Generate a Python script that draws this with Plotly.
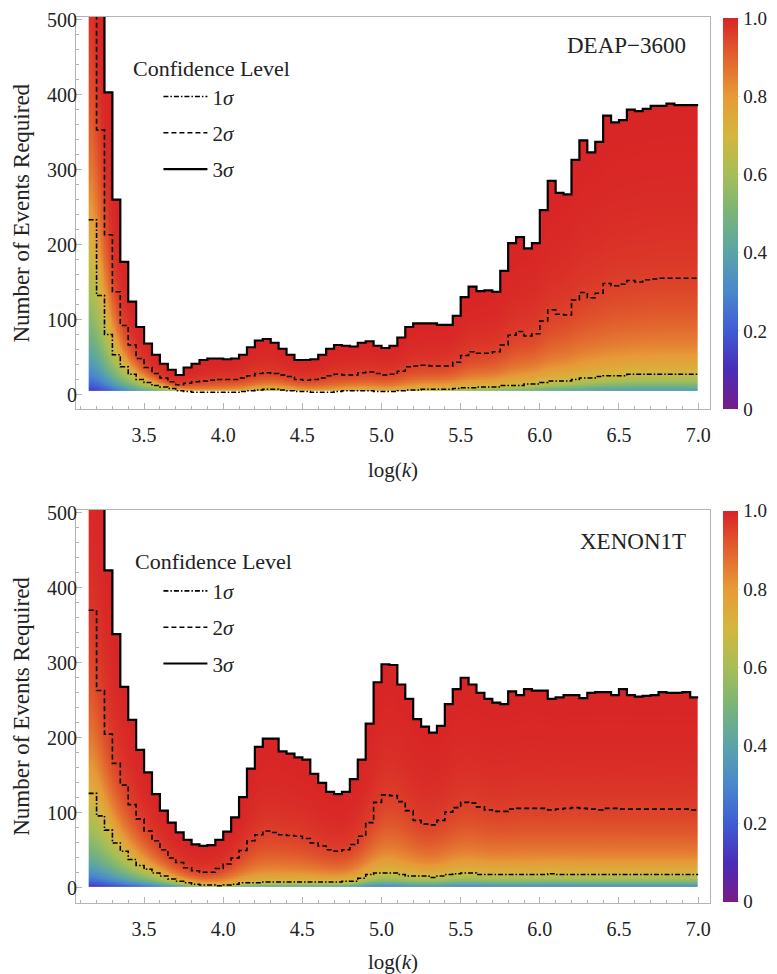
import math
import numpy as np
import plotly.graph_objects as go

# ---------------- data ----------------
bin_start = 3.15
bin_width = 0.05
n_bins = 77

deap_3sigma = [620, 600, 403, 260, 177, 124, 90, 68, 53, 41, 33, 26, 36, 41, 46, 48, 48, 47, 48, 53, 63, 72, 74, 69, 61, 53, 46,
               46, 47, 53, 61, 66, 65, 64, 69, 71, 65, 62, 65, 76, 90, 95, 95, 95, 93, 93, 105, 130, 144, 138, 139, 137,
               165, 202, 210, 195, 202, 246, 285, 269, 267, 313, 339, 323, 337, 372, 363, 366, 380, 378, 381, 385, 385, 388, 386, 386, 386]
deap_2sigma = [560, 353, 213, 137, 92, 66, 48, 36, 28, 22, 17, 13, 15, 17, 18, 19, 20, 20, 20, 22, 25, 28, 29, 28, 26, 24, 20,
               19, 20, 22, 25, 27, 26, 26, 29, 30, 28, 26, 27, 31, 37, 38, 39, 38, 38, 38, 43, 52, 57, 55, 55, 57,
               66, 79, 84, 78, 81, 98, 113, 107, 106, 126, 136, 129, 135, 148, 145, 147, 152, 150, 153, 154, 155, 155, 155, 155, 155]
deap_1sigma = [233, 132, 80, 53, 37, 27, 20, 16, 12, 10, 8, 5, 4, 3, 3, 3, 3, 3, 3, 4, 5, 6, 7, 7, 6, 5, 4,
               4, 3, 3, 3, 4, 5, 5, 5, 5, 4, 4, 4, 5, 6, 6, 7, 7, 7, 7, 8, 9, 9, 10, 10, 10,
               12, 12, 12, 14, 14, 16, 18, 18, 18, 20, 22, 22, 24, 25, 25, 25, 27, 27, 27, 27, 27, 27, 27, 27, 27]

xenon_3sigma = [650, 560, 423, 338, 268, 224, 184, 154, 125, 103, 87, 74, 64, 58, 56, 57, 64, 75, 94, 121, 159, 188, 199, 199, 182, 179, 174,
                171, 152, 140, 128, 125, 128, 145, 171, 219, 274, 298, 297, 271, 252, 225, 215, 207, 216, 245, 265, 280, 271, 260, 252, 247,
                245, 262, 257, 265, 263, 263, 252, 254, 257, 257, 253, 260, 261, 261, 257, 265, 257, 255, 256, 257, 261, 260, 260, 261, 254]
xenon_2sigma = [370, 263, 205, 166, 137, 111, 92, 76, 63, 51, 40, 34, 27, 23, 21, 21, 26, 32, 40, 50, 63, 71, 76, 74, 71, 70, 69,
                66, 60, 56, 51, 49, 51, 58, 69, 87, 114, 124, 123, 115, 103, 90, 85, 84, 90, 101, 107, 114, 113, 108, 104, 102,
                102, 105, 106, 106, 106, 106, 104, 105, 106, 107, 106, 105, 104, 106, 106, 105, 105, 105, 105, 105, 105, 105, 105, 105, 104]
xenon_1sigma = [126, 96, 77, 60, 49, 38, 30, 25, 20, 16, 12, 9, 7, 5, 4, 4, 3, 4, 5, 7, 7, 7, 8, 8, 8, 8, 8,
                8, 8, 8, 8, 8, 9, 9, 13, 18, 20, 20, 20, 18, 16, 16, 16, 14, 16, 18, 19, 20, 20, 18, 18, 18,
                18, 18, 18, 18, 18, 18, 19, 18, 18, 18, 18, 18, 18, 18, 18, 18, 18, 18, 18, 18, 18, 18, 18, 18, 18]

colorbar_ticks = [0, 0.2, 0.4, 0.6, 0.8, 1.0]
colorbar_labels = ["0", "0.2", "0.4", "0.6", "0.8", "1.0"]
x_ticks = [3.5, 4.0, 4.5, 5.0, 5.5, 6.0, 6.5, 7.0]
y_ticks = [0, 100, 200, 300, 400, 500]

rainbow = [
    [0.0, "rgb(120,28,134)"],
    [0.1, "rgb(74,44,184)"],
    [0.2, "rgb(64,92,212)"],
    [0.3, "rgb(74,136,204)"],
    [0.4, "rgb(90,164,168)"],
    [0.5, "rgb(122,180,120)"],
    [0.6, "rgb(166,190,86)"],
    [0.7, "rgb(212,182,62)"],
    [0.8, "rgb(231,154,56)"],
    [0.9, "rgb(226,98,46)"],
    [1.0, "rgb(216,36,38)"],
]

FONT = "Liberation Serif, DejaVu Serif, serif"
TXT = "#222"

edges = bin_start + bin_width * np.arange(n_bins + 1)
centers = edges[:-1] + bin_width / 2
erf_v = np.vectorize(math.erf)


def smooth_log(vals):
    v = np.log(np.array(vals, dtype=float))
    for _ in range(2):
        p = np.concatenate([[v[0]], v, [v[-1]]])
        v = 0.25 * p[:-2] + 0.5 * p[1:-1] + 0.25 * p[2:]
    return v


def confidence_field(n1, n2, n3, ybot):
    xf = bin_start + 0.005 + 0.01 * np.arange(int(round((edges[-1] - bin_start) / 0.01)))
    bins = np.minimum(((xf - bin_start) / bin_width + 1e-9).astype(int), n_bins - 1)
    yf = ybot + 0.5 + np.arange(int(505 - ybot))
    a1 = np.sqrt(np.exp(np.interp(xf, centers, smooth_log(n1))))[None, :]
    a2 = np.sqrt(np.exp(np.interp(xf, centers, smooth_log(n2))))[None, :]
    a3 = np.sqrt(np.exp(np.interp(xf, centers, smooth_log(n3))))[None, :]
    a2 = np.maximum(a2, a1 * 1.2)
    a3 = np.maximum(a3, a2 * 1.2)
    q = np.sqrt(yf)[:, None]
    s = np.where(q <= a1, q / a1,
                 np.where(q <= a2, 1 + (q - a1) / (a2 - a1),
                          np.where(q <= a3, 2 + (q - a2) / (a3 - a2), 3 + (q - a3) / (a3 - a2))))
    z = erf_v(s / math.sqrt(2))
    top = np.array(n3, dtype=float)[bins][None, :]
    z = np.where(yf[:, None] > top, np.nan, np.round(z, 3))
    zl = [[None if np.isnan(v) else float(v) for v in row] for row in z]
    return xf, yf, zl


def step_xy(vals):
    xs = list(edges)
    ys = list(vals) + [vals[-1]]
    return xs, ys


fig = go.Figure()

panels = [
    dict(name="DEAP\u22123600", n1=deap_1sigma, n2=deap_2sigma, n3=deap_3sigma, ybot=5,
         xa="x", ya="y", legend="legend", cb_y=0.778, grp="a"),
    dict(name="XENON1T", n1=xenon_1sigma, n2=xenon_2sigma, n3=xenon_3sigma, ybot=2,
         xa="x2", ya="y2", legend="legend2", cb_y=0.222, grp="b"),
]

for p in panels:
    xf, yf, z = confidence_field(p["n1"], p["n2"], p["n3"], p["ybot"])
    fig.add_trace(go.Heatmap(
        x=xf, y=yf, z=z, xaxis=p["xa"], yaxis=p["ya"],
        colorscale=rainbow, zmin=0, zmax=1, showlegend=False, hoverinfo="skip",
        colorbar=dict(x=1.0200, xanchor="left", xpad=0, y=p["cb_y"], yanchor="middle", ypad=0,
                      len=0.441, lenmode="fraction", thickness=15, outlinewidth=0,
                      tickvals=colorbar_ticks, ticktext=colorbar_labels,
                      ticks="outside", ticklen=2, tickcolor="#dddddd",
                      ticklabeloverflow="allow",
                      tickfont=dict(family=FONT, size=19, color=TXT)),
    ))
    styles = [("1<i>σ</i>", p["n1"], dict(color="black", width=1.6, dash="5px,2px,1.5px,2px")),
              ("2<i>σ</i>", p["n2"], dict(color="black", width=1.6, dash="5px,3px")),
              ("3<i>σ</i>", p["n3"], dict(color="black", width=2.2))]
    for k, (lab, vals, ln) in enumerate(styles):
        xs, ys = step_xy(vals)
        fig.add_trace(go.Scatter(
            x=xs, y=ys, mode="lines", line=dict(shape="hv", **ln), name=lab,
            xaxis=p["xa"], yaxis=p["ya"], legend=p["legend"], legendgroup=p["grp"] + str(k),
            hoverinfo="skip"))

axis_common = dict(showline=True, mirror=True, linecolor="#b4b4b4", linewidth=1,
                   showgrid=False, zeroline=False, ticks="inside", tickcolor="#b4b4b4",
                   tickfont=dict(family=FONT, size=20, color=TXT))

xcommon = dict(axis_common, range=[3.07, 7.075], tickvals=x_ticks, tickformat=".1f", ticklen=6,
               minor=dict(dtick=0.1, tick0=3.0, ticks="inside", ticklen=3, tickcolor="#b4b4b4"),
               ticklabelstandoff=8,
               title=dict(text="log(<i>k</i>)", font=dict(family=FONT, size=21, color=TXT), standoff=16))
ycommon = dict(axis_common, range=[-20, 503.5], tickvals=y_ticks, ticklen=6,
               minor=dict(dtick=20, tick0=0, ticks="inside", ticklen=3, tickcolor="#b4b4b4"),
               ticklabelstandoff=-6,
               title=dict(text="Number of Events Required", font=dict(family=FONT, size=23, color=TXT), standoff=10))

legend_common = dict(xanchor="left", yanchor="top", bgcolor="rgba(0,0,0,0)", borderwidth=0,
                     font=dict(family=FONT, size=21, color=TXT), itemwidth=44, tracegroupgap=6,
                     traceorder="grouped")

fig.update_layout(
    width=769, height=966,
    margin=dict(l=68, r=67, t=9, b=71, autoexpand=False),
    paper_bgcolor="white", plot_bgcolor="white",
    font=dict(family=FONT, size=19, color=TXT),
    xaxis=dict(xcommon, domain=[0, 1], anchor="y"),
    yaxis=dict(ycommon, domain=[0.557, 1], anchor="x"),
    xaxis2=dict(xcommon, domain=[0, 1], anchor="y2"),
    yaxis2=dict(ycommon, domain=[0, 0.4436], anchor="x2"),
    legend=dict(legend_common, x=0.13, y=0.933),
    legend2=dict(legend_common, x=0.13, y=0.375),
    annotations=[
        dict(text="Confidence Level", xref="paper", yref="paper", x=0.0863, y=0.9421,
             xanchor="left", yanchor="middle", showarrow=False, font=dict(family=FONT, size=22, color=TXT)),
        dict(text="Confidence Level", xref="paper", yref="paper", x=0.0899, y=0.3852,
             xanchor="left", yanchor="middle", showarrow=False, font=dict(family=FONT, size=22, color=TXT)),
        dict(text="DEAP\u22123600", xref="paper", yref="paper", x=0.9653, y=0.9673,
             xanchor="right", yanchor="middle", showarrow=False, font=dict(family=FONT, size=23, color=TXT)),
        dict(text="XENON1T", xref="paper", yref="paper", x=0.9653, y=0.4078,
             xanchor="right", yanchor="middle", showarrow=False, font=dict(family=FONT, size=23, color=TXT)),
    ],
)

fig.write_html("out.html")
